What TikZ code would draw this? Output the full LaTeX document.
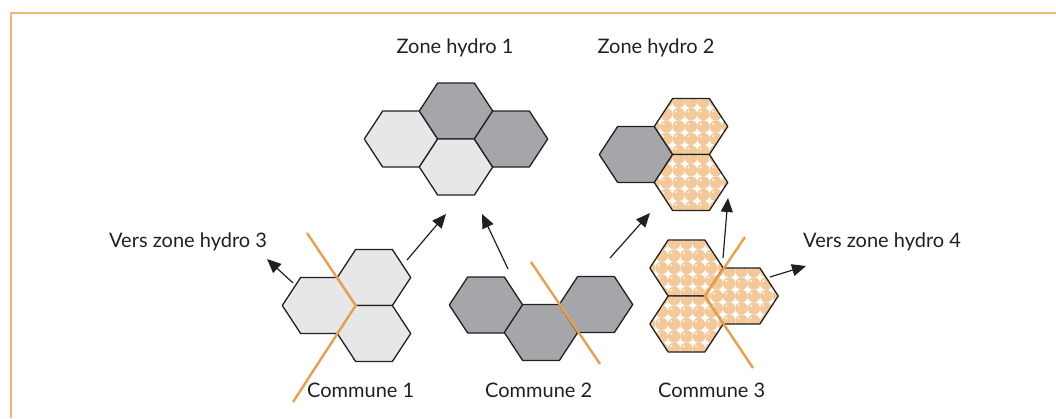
\documentclass[tikz,border=0pt]{standalone}
\usepackage{fontspec}
\setmainfont{Lato}
\usetikzlibrary{arrows.meta}
\definecolor{frameor}{HTML}{F2B778}
\definecolor{lineor}{HTML}{E9A04C}
\definecolor{bubble}{HTML}{F4C99A}
\definecolor{lightg}{HTML}{E6E7E8}
\definecolor{darkg}{HTML}{A5A6A9}
\definecolor{ink}{HTML}{231F20}
\tikzset{
  hex/.pic={\filldraw[fill=#1,draw=ink,line width=1.3pt,line join=round]
     (-36.7,0) -- (-18.35,-28) -- (18.35,-28) -- (36.7,0) -- (18.35,28) -- (-18.35,28) -- cycle;},
  phex/.pic={
     \begin{scope}
       \clip (-36.7,0) -- (-18.35,-28) -- (18.35,-28) -- (36.7,0) -- (18.35,28) -- (-18.35,28) -- cycle;
       \fill[white] (-40,-30) rectangle (40,30);
       \foreach \i in {-3,...,3}{\foreach \j in {-3,...,3}{
         \fill[bubble] (\i*12.4,\j*12.4) circle (6.25);
         \fill[white] (\i*12.4-2.7,\j*12.4-2.7) circle (1.1);
       }}
     \end{scope}
     \draw[ink,line width=1.3pt,line join=round]
     (-36.7,0) -- (-18.35,-28) -- (18.35,-28) -- (36.7,0) -- (18.35,28) -- (-18.35,28) -- cycle;},
  cut/.style={lineor,line width=2.4pt},
  arr/.style={ink,line width=1.2pt,-{Triangle[length=14pt,width=12pt]}},
  lab/.style={text=ink,font=\fontsize{20}{22}\selectfont,inner sep=0pt}
}
\begin{document}
\begin{tikzpicture}[x=1pt,y=-1pt]
\useasboundingbox (0,0) rectangle (1056,418);
% frame
\draw[frameor,line width=2pt] (1056,13) -- (11,13) -- (11,418);

% Zone hydro 1
\pic at (401,139) {hex=lightg};
\pic at (456,111) {hex=darkg};
\pic at (456,167) {hex=lightg};
\pic at (511,139) {hex=darkg};
% Zone hydro 2
\pic at (636,154.5) {hex=darkg};
\pic at (691,126.5) {phex};
\pic at (691,182.5) {phex};
% Commune 1
\pic at (319,305.5) {hex=lightg};
\pic at (374,277.5) {hex=lightg};
\pic at (374,333.5) {hex=lightg};
% Commune 2
\pic at (486,305) {hex=darkg};
\pic at (541,332.5) {hex=darkg};
\pic at (596,304.5) {hex=darkg};
% Commune 3
\pic at (686.5,268) {phex};
\pic at (686.5,324) {phex};
\pic at (741.5,296) {phex};

% boundary lines
\draw[cut] (307,233) -- (355.7,305.5) -- (293,402);
\draw[cut] (531,262) -- (600,364);
\draw[cut] (745,237) -- (705,296) -- (753,368);

% arrow ends
\coordinate (a1s) at (293,283); \coordinate (a1e) at (267,259);
\coordinate (a2s) at (407,260); \coordinate (a2e) at (446,214);
\coordinate (a3s) at (508,269); \coordinate (a3e) at (482,214);
\coordinate (a4s) at (610,258); \coordinate (a4e) at (650,213);
\coordinate (a5s) at (723,258); \coordinate (a5e) at (728,198);
\coordinate (a6s) at (770,277); \coordinate (a6e) at (806,266);
\draw[arr] (a1s) -- (a1e);
\draw[arr] (a2s) -- (a2e);
\draw[arr] (a3s) -- (a3e);
\draw[arr] (a4s) -- (a4e);
\draw[arr] (a5s) -- (a5e);
\draw[arr] (a6s) -- (a6e);

% labels
\node[lab,anchor=base] (z1) at (455,53) {Zone hydro 1};
\node[lab,anchor=base] (z2) at (656,53) {Zone hydro 2};
\node[lab,anchor=base west] (v3) at (109,247) {Vers zone hydro 3};
\node[lab,anchor=base west] (v4) at (803,247) {Vers zone hydro 4};
\node[lab,anchor=base west] (c1) at (307,397) {Commune 1};
\node[lab,anchor=base west] (c2) at (485,397) {Commune 2};
\node[lab,anchor=base west] (c3) at (658,397) {Commune 3};
\end{tikzpicture}
\end{document}
